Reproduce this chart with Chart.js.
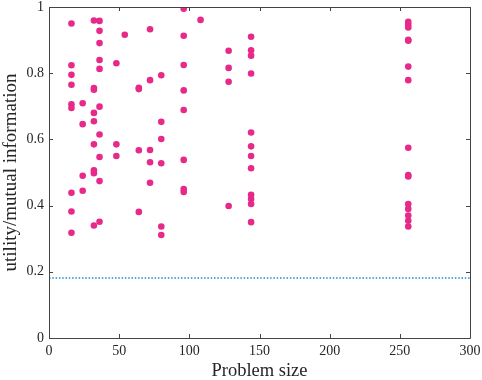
<!DOCTYPE html>
<html>
<head>
<meta charset="utf-8">
<script src="https://cdn.jsdelivr.net/npm/chart.js@4/dist/chart.umd.min.js"></script>
<style>
html,body{margin:0;padding:0;background:#fff;}
#wrap{width:482px;height:380px;position:relative;}
</style>
</head>
<body>
<div id="wrap"><canvas id="c" width="482" height="380"></canvas></div>
<script>
// Problem sizes (x) and utility/mutual information (y) for each point
const problemSize = [
  16,16,16,16,16,16,16,16,16,
  24,24,24,24,
  32,32,32,32,32,32,32,32,32,
  36,36,36,36,36,36,36,36,36,36,
  48,48,48,
  54,
  64,64,64,64,
  72,72,72,72,72,
  80,80,80,80,80,80,
  96,96,96,96,96,96,96,96,
  108,
  128,128,128,128,
  144,144,144,144,144,144,144,144,144,144,144,144,
  256,256,256,256,256,256,256,256,256,256,256,256,256,256,256
];
const utility = [
  0.950,0.824,0.795,0.765,0.706,0.695,0.439,0.382,0.318,
  0.709,0.646,0.490,0.445,
  0.959,0.755,0.750,0.680,0.655,0.585,0.507,0.498,0.340,
  0.958,0.928,0.891,0.840,0.813,0.699,0.615,0.547,0.474,0.351,
  0.830,0.585,0.550,
  0.916,
  0.756,0.752,0.567,0.381,
  0.933,0.779,0.568,0.531,0.469,
  0.794,0.653,0.601,0.528,0.337,0.311,
  0.995,0.913,0.825,0.748,0.689,0.538,0.450,0.441,
  0.961,
  0.868,0.816,0.774,0.399,
  0.910,0.869,0.853,0.799,0.621,0.579,0.550,0.513,0.433,0.420,0.405,0.350,
  0.955,0.946,0.938,0.901,0.898,0.820,0.779,0.575,0.492,0.488,0.405,0.390,0.370,0.354,0.337
];
const baselineX = [0, 300];
const baselineY = [0.181, 0.181];
const xTicks = [0, 50, 100, 150, 200, 250, 300];
const yTicks = [0, 0.2, 0.4, 0.6, 0.8, 1];

const FONT = "'Liberation Serif', 'DejaVu Serif', serif";
const AXIS = '#444444';

const framePlugin = {
  id: 'frame',
  afterDraw(chart) {
    const {ctx, chartArea: a, scales: {x, y}} = chart;
    ctx.save();
    ctx.strokeStyle = AXIS;
    ctx.lineWidth = 1;
    ctx.beginPath();
    ctx.rect(Math.round(a.left) + 0.5, Math.round(a.top) + 0.5,
             Math.round(a.right - a.left), Math.round(a.bottom - a.top));
    ctx.stroke();
    const tl = 4;
    ctx.beginPath();
    xTicks.forEach(v => {
      const px = Math.round(x.getPixelForValue(v)) + 0.5;
      ctx.moveTo(px, a.bottom); ctx.lineTo(px, a.bottom - tl);
      ctx.moveTo(px, a.top); ctx.lineTo(px, a.top + tl);
    });
    yTicks.forEach(v => {
      const py = Math.round(y.getPixelForValue(v)) + 0.5;
      ctx.moveTo(a.left, py); ctx.lineTo(a.left + tl, py);
      ctx.moveTo(a.right, py); ctx.lineTo(a.right - tl, py);
    });
    ctx.stroke();
    ctx.restore();
  }
};

const points = problemSize.map((v, i) => ({x: v, y: utility[i]}));
const baseline = baselineX.map((v, i) => ({x: v, y: baselineY[i]}));

new Chart(document.getElementById('c'), {
  type: 'scatter',
  data: {
    datasets: [
      {
        type: 'line',
        data: baseline,
        borderColor: '#1a8ad4',
        borderWidth: 1.5,
        borderDash: [1.5, 1.8],
        pointRadius: 0,
        fill: false,
        order: 2
      },
      {
        data: points,
        backgroundColor: '#e7298a',
        borderColor: '#e7298a',
        borderWidth: 0,
        pointRadius: 3.3,
        pointHoverRadius: 3.3,
        order: 1
      }
    ]
  },
  options: {
    responsive: false,
    animation: false,
    events: [],
    layout: {padding: {left: 0, right: 12, top: 7, bottom: 0}},
    plugins: {legend: {display: false}, tooltip: {enabled: false}},
    scales: {
      x: {
        type: 'linear',
        min: 0, max: 300,
        afterBuildTicks: s => { s.ticks = xTicks.map(v => ({value: v})); },
        afterFit: s => { s.height = 42; s.paddingLeft = 0; s.paddingRight = 0; },
        grid: {display: false, drawTicks: false},
        border: {display: false},
        ticks: {color: '#262626', font: {family: FONT, size: 14}, padding: 5, maxRotation: 0},
        title: {display: true, text: 'Problem size', color: '#262626',
                font: {family: FONT, size: 18.5, lineHeight: 1.0}, padding: {top: 0, bottom: 0}}
      },
      y: {
        type: 'linear',
        min: 0, max: 1,
        afterBuildTicks: s => { s.ticks = yTicks.map(v => ({value: v})); },
        afterFit: s => { s.width = 49; s.paddingTop = 0; s.paddingBottom = 0; },
        grid: {display: false, drawTicks: false},
        border: {display: false},
        ticks: {color: '#262626', font: {family: FONT, size: 14}, padding: 5,
                callback: v => String(v)},
        title: {display: true, text: 'utility/mutual information', color: '#262626',
                font: {family: FONT, size: 19, lineHeight: 1.0}, padding: {top: 2, bottom: 0}}
      }
    }
  },
  plugins: [framePlugin]
});
</script>
</body>
</html>
